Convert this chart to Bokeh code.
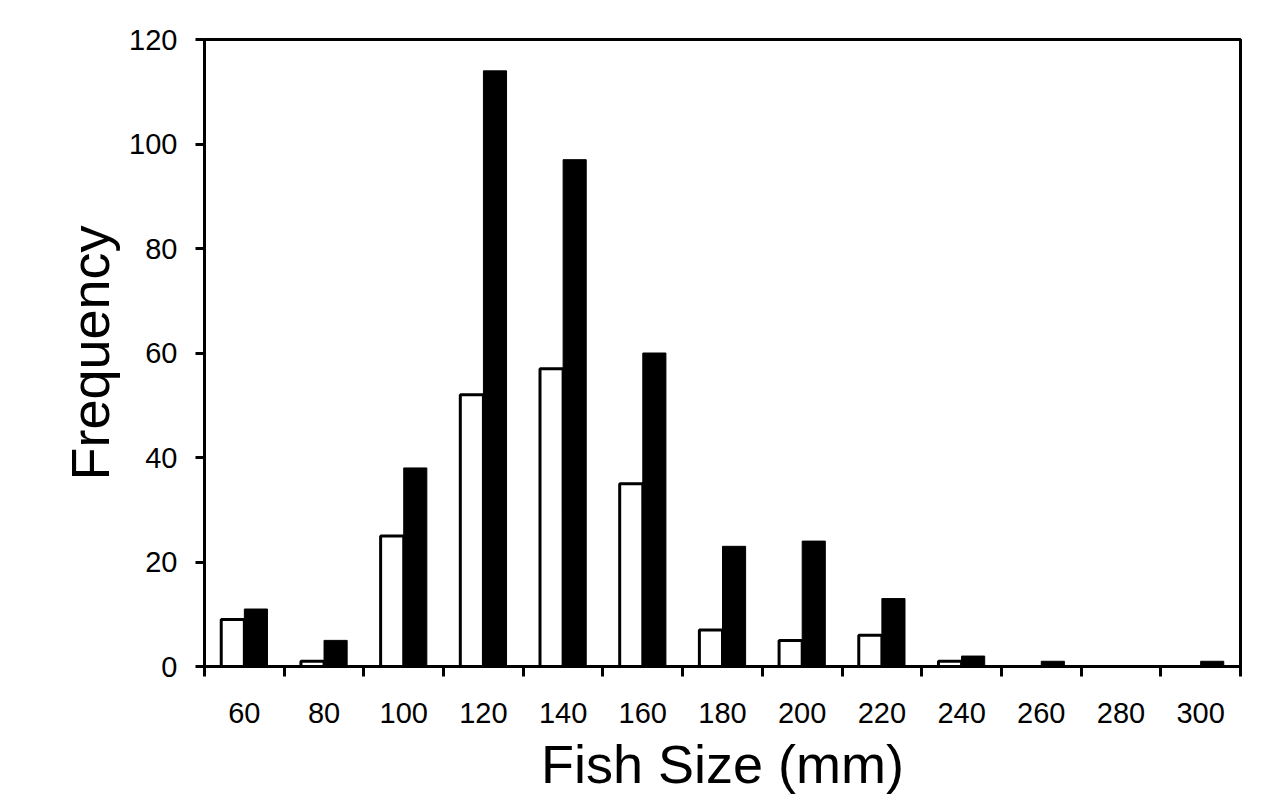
from bokeh.plotting import figure
from bokeh.models import ColumnDataSource, FixedTicker, Range1d
from bokeh.transform import dodge
from bokeh.embed import file_html
from bokeh.resources import INLINE

sizes = [60, 80, 100, 120, 140, 160, 180, 200, 220, 240, 260, 280, 300]
series_white = [9, 1, 25, 52, 57, 35, 7, 5, 6, 1, 0, 0, 0]
series_black = [11, 5, 38, 114, 97, 60, 23, 24, 13, 2, 1, 0, 1]
y_ticks = [0, 20, 40, 60, 80, 100, 120]

src = ColumnDataSource(data=dict(size=sizes, white=series_white, black=series_black))

FONT = "Liberation Sans"

p = figure(width=1263, height=796, output_backend="svg", toolbar_location=None,
           x_range=Range1d(50, 310), y_range=Range1d(0, 120),
           min_border_left=204, min_border_right=23, min_border_top=39, min_border_bottom=129)

bw = 5.8
p.vbar(x=dodge("size", -bw / 2, range=p.x_range), top="white", width=bw, bottom=0, source=src,
       fill_color="white", line_color="black", line_width=3)
p.vbar(x=dodge("size", bw / 2, range=p.x_range), top="black", width=bw, bottom=0, source=src,
       fill_color="black", line_color="black", line_width=1)

p.xgrid.visible = False
p.ygrid.visible = False
p.outline_line_color = "black"
p.outline_line_width = 3
p.outline_line_alpha = 1.0

boundaries = [s - 10 for s in sizes] + [sizes[-1] + 10]
p.xaxis.ticker = FixedTicker(ticks=sizes, minor_ticks=boundaries)
p.xaxis.major_tick_out = 0
p.xaxis.major_tick_in = 0
p.xaxis.minor_tick_out = 10
p.xaxis.minor_tick_in = 0
p.xaxis.minor_tick_line_width = 3
p.xaxis.minor_tick_line_color = "black"

p.yaxis.ticker = FixedTicker(ticks=y_ticks)
p.yaxis.major_tick_out = 9
p.yaxis.major_tick_in = 0
p.yaxis.minor_tick_out = 0
p.yaxis.minor_tick_in = 0

for ax in (p.xaxis, p.yaxis):
    ax.axis_line_width = 3
    ax.axis_line_color = "black"
    ax.major_tick_line_width = 3
    ax.major_tick_line_color = "black"
    ax.major_label_text_font = FONT
    ax.major_label_text_font_size = "29px"
    ax.major_label_text_color = "black"
    ax.axis_label_text_font = FONT
    ax.axis_label_text_font_size = "54px"
    ax.axis_label_text_font_style = "normal"
    ax.axis_label_text_color = "black"

p.xaxis.axis_label = "Fish Size (mm)"
p.yaxis.axis_label = "Frequency"
p.xaxis.major_label_standoff = 26
p.yaxis.major_label_standoff = 18
p.xaxis.axis_label_standoff = 8
p.yaxis.axis_label_standoff = 6

open("out.html", "w").write(file_html(p, INLINE))
